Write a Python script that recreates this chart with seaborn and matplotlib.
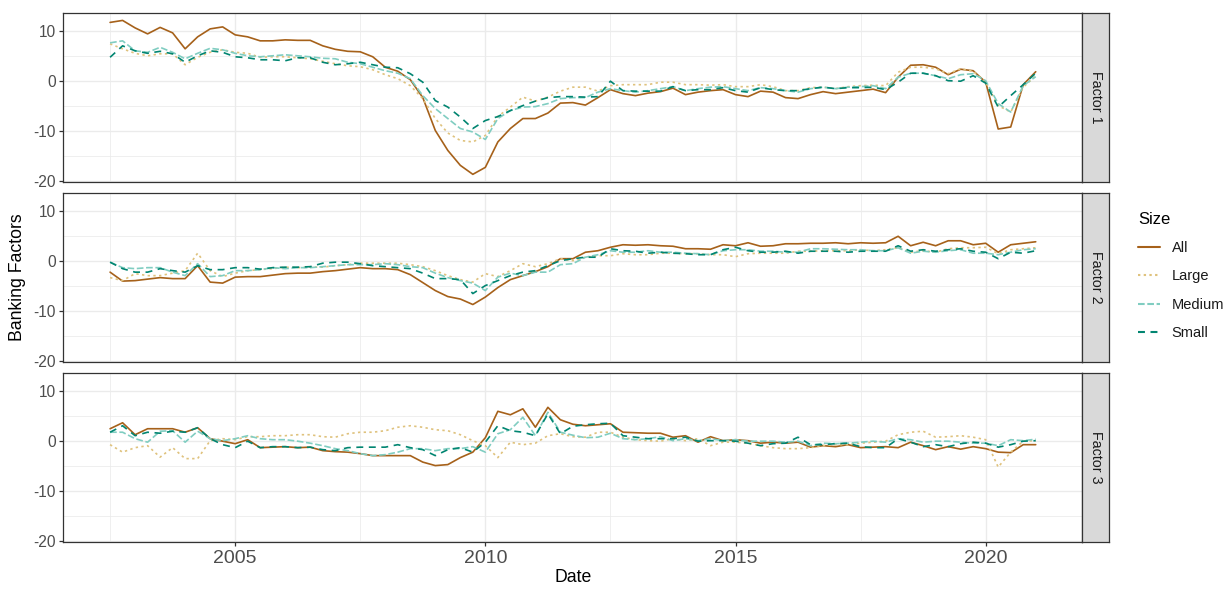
import numpy as np
import pandas as pd
import matplotlib
matplotlib.use("Agg")
import matplotlib.pyplot as plt
from matplotlib.lines import Line2D
import seaborn as sns

# ---------------- data ----------------
quarters = pd.date_range("2002-07-01", "2021-01-01", freq="QS")
sizes = ["All", "Large", "Medium", "Small"]
factors = ["Factor 1", "Factor 2", "Factor 3"]
x_ticks = [2005, 2010, 2015, 2020]
y_ticks = [-20, -10, 0, 10]

f1_all = [11.8, 12.2, 10.7, 9.5, 10.8, 9.7, 6.5, 8.9, 10.5, 10.9,
          9.3, 8.9, 8.1, 8.1, 8.3, 8.2, 8.2, 7.1, 6.4, 6.0,
          5.9, 4.9, 2.8, 2.0, 0.3, -3.3, -9.9, -13.9, -16.9, -18.7,
          -17.3, -12.2, -9.5, -7.5, -7.5, -6.4, -4.4, -4.3, -4.8, -3.3,
          -1.7, -2.5, -2.9, -2.4, -2.1, -1.4, -2.7, -2.2, -1.9, -1.7,
          -2.7, -3.1, -2.0, -2.2, -3.3, -3.5, -2.7, -2.1, -2.5, -2.2,
          -1.9, -1.6, -2.3, 0.8, 3.2, 3.3, 2.8, 1.3, 2.4, 2.1,
          -0.2, -9.6, -9.2, -0.7, 1.9]
f1_large = [7.5, 6.5, 5.6, 5.1, 5.5, 5.5, 3.3, 4.8, 5.8, 6.3,
            5.8, 5.6, 4.8, 4.9, 4.9, 4.7, 4.5, 4.0, 3.5, 3.1,
            2.9, 2.3, 1.3, 0.5, -0.9, -3.5, -7.5, -10.4, -11.9, -12.2,
            -10.9, -7.1, -5.2, -3.2, -4.0, -3.2, -2.0, -1.2, -1.2, -2.0,
            -0.9, -0.7, -0.7, -0.7, -0.2, -0.2, -0.7, -0.7, -0.8, -0.7,
            -1.1, -1.1, -0.7, -1.1, -1.9, -1.9, -1.3, -1.2, -1.5, -1.1,
            -0.9, -0.8, -0.9, 1.8, 2.8, 2.8, 2.5, 1.5, 2.5, 2.0,
            -0.2, -4.9, -6.2, -1.2, 1.1]
f1_medium = [7.7, 8.1, 6.1, 5.8, 6.8, 5.8, 4.5, 5.6, 6.6, 6.3,
             5.6, 5.1, 4.9, 5.1, 5.3, 5.1, 4.9, 4.6, 4.5, 3.8,
             3.5, 2.8, 2.1, 1.6, 0.5, -2.9, -5.5, -7.5, -9.5, -10.2,
             -11.7, -7.5, -5.9, -5.2, -5.1, -4.5, -3.5, -3.3, -3.3, -2.2,
             -1.5, -1.9, -2.2, -1.9, -1.5, -1.1, -1.9, -1.5, -1.2, -1.1,
             -1.5, -1.9, -1.3, -1.5, -1.9, -2.2, -1.5, -1.2, -1.5, -1.2,
             -1.1, -0.9, -1.5, 0.8, 1.6, 1.6, 1.1, 0.5, 1.3, 1.5,
             0.1, -4.5, -6.2, -0.9, 0.9]
f1_small = [4.8, 7.1, 6.1, 5.6, 6.0, 5.5, 3.8, 5.1, 6.1, 5.8,
            4.9, 4.7, 4.3, 4.3, 4.1, 4.7, 4.7, 3.8, 3.3, 3.5,
            3.8, 3.3, 2.8, 2.7, 1.5, -0.2, -3.9, -5.2, -7.2, -9.5,
            -7.9, -7.1, -5.9, -4.9, -4.0, -3.3, -3.1, -3.1, -3.2, -3.1,
            0.0, -1.9, -2.0, -2.0, -2.0, -1.1, -1.9, -1.7, -1.7, -1.3,
            -1.9, -2.2, -1.3, -1.7, -1.9, -1.9, -1.5, -1.2, -1.5, -1.3,
            -1.3, -1.2, -1.7, -0.2, 1.6, 1.6, 1.1, 0.1, 0.0, 1.1,
            -0.4, -5.2, -2.9, -0.7, 1.6]

f2_all = [-2.2, -4.0, -3.9, -3.6, -3.3, -3.5, -3.5, -0.9, -4.2, -4.4,
          -3.2, -3.1, -3.1, -2.8, -2.5, -2.4, -2.4, -2.1, -1.9, -1.6,
          -1.3, -1.5, -1.5, -1.7, -2.7, -4.3, -5.9, -7.1, -7.6, -8.7,
          -7.2, -5.3, -3.7, -2.9, -2.1, -1.1, 0.5, 0.5, 1.8, 2.1,
          2.8, 3.3, 3.2, 3.3, 3.1, 3.0, 2.5, 2.5, 2.4, 3.3,
          3.1, 3.7, 3.0, 3.1, 3.5, 3.5, 3.6, 3.6, 3.7, 3.5,
          3.7, 3.6, 3.7, 5.0, 3.1, 3.8, 3.1, 4.1, 4.1, 3.3,
          3.6, 1.8, 3.3, 3.6, 3.9]
f2_large = [-3.3, -3.9, -2.5, -2.9, -2.9, -2.4, -1.9, 1.6, -1.9, -3.1,
            -2.4, -1.9, -1.7, -1.5, -1.2, -1.3, -1.2, -1.2, -0.9, -0.7,
            -0.4, -0.4, -0.4, -0.4, -0.7, -1.1, -1.9, -2.9, -3.7, -4.2,
            -2.5, -3.1, -1.9, -0.5, -1.1, -0.5, 0.5, 0.1, 0.8, 1.1,
            1.1, 1.5, 1.3, 1.3, 1.6, 1.6, 1.5, 1.5, 1.3, 1.3,
            0.9, 1.5, 1.6, 1.6, 1.6, 2.0, 2.0, 2.1, 2.1, 2.1,
            2.3, 2.1, 2.3, 2.7, 1.8, 2.1, 1.8, 2.5, 2.7, 2.7,
            2.8, 1.5, 2.3, 2.5, 2.7]
f2_medium = [-0.2, -1.3, -1.5, -1.3, -1.3, -2.2, -2.9, -0.5, -3.1, -2.9,
             -1.9, -1.9, -1.7, -1.3, -1.5, -1.3, -1.3, -1.1, -0.9, -0.7,
             -0.7, -0.7, -0.5, -0.7, -1.1, -1.3, -2.4, -3.3, -3.9, -4.4,
             -5.9, -3.2, -2.4, -2.9, -2.2, -2.2, -0.7, -0.5, 0.8, 1.3,
             2.1, 1.8, 1.8, 2.1, 1.8, 1.8, 1.6, 1.5, 1.3, 2.1,
             2.3, 2.3, 2.0, 2.0, 1.8, 1.8, 2.5, 2.5, 2.4, 2.3,
             2.3, 2.1, 2.1, 2.7, 1.6, 2.0, 1.8, 2.1, 2.3, 1.6,
             1.6, 1.3, 1.8, 2.3, 2.5]
f2_small = [-0.2, -1.5, -2.2, -2.2, -1.5, -1.9, -2.2, -0.9, -1.7, -1.7,
            -1.3, -1.3, -1.6, -1.3, -1.2, -1.2, -1.1, -0.4, -0.2, -0.2,
            -0.5, -0.9, -1.1, -1.3, -1.5, -2.4, -3.5, -3.5, -3.7, -6.5,
            -4.9, -3.9, -2.9, -2.2, -1.9, -0.9, 0.1, 0.5, 0.8, 0.8,
            2.5, 2.1, 2.0, 1.6, 1.8, 1.6, 1.5, 1.3, 1.3, 2.3,
            2.8, 2.1, 1.8, 1.8, 2.0, 1.6, 2.0, 2.0, 2.0, 1.8,
            2.0, 2.0, 2.0, 3.1, 2.0, 2.3, 2.0, 2.3, 2.5, 2.0,
            1.8, 0.5, 1.8, 1.6, 2.1]

f3_all = [2.5, 3.7, 1.3, 2.5, 2.5, 2.5, 1.8, 2.7, 0.5, 0.0,
          -0.5, 0.3, -1.3, -1.2, -1.1, -1.3, -1.2, -1.9, -2.1, -2.2,
          -2.5, -2.9, -2.9, -2.9, -2.9, -4.2, -4.9, -4.7, -3.3, -2.2,
          0.7, 6.0, 5.3, 6.5, 2.8, 6.8, 4.3, 3.4, 3.1, 3.3,
          3.5, 1.8, 1.7, 1.6, 1.6, 0.8, 1.1, -0.2, 0.9, 0.1,
          0.3, 0.1, -0.4, -0.2, -0.4, -0.2, -1.2, -0.9, -1.1, -0.7,
          -1.3, -1.2, -1.1, -1.3, -0.2, -0.9, -1.7, -1.1, -1.6, -1.1,
          -1.5, -2.2, -2.3, -0.7, -0.7]
f3_large = [-0.7, -2.2, -1.3, -0.9, -3.2, -1.3, -3.5, -3.5, 0.1, 0.5,
            0.3, 0.9, 0.9, 1.1, 1.1, 1.3, 1.3, 0.9, 0.8, 1.5,
            1.8, 1.8, 2.1, 2.8, 3.1, 2.8, 2.3, 2.1, 1.3, 0.1,
            -0.9, -3.3, -0.2, -0.7, -0.4, 1.1, 1.5, 0.9, 0.8, 1.8,
            1.8, 0.8, 0.3, 0.1, 0.0, 0.5, 0.1, 0.5, -0.9, -0.2,
            -0.2, -0.4, -0.9, -1.3, -1.5, -1.5, -1.3, -0.9, -0.7, -0.7,
            -0.4, -0.2, 0.0, 1.3, 1.8, 2.0, 0.8, 0.9, 1.1, 0.8,
            0.3, -5.2, -2.2, 0.0, 0.1]
f3_medium = [1.8, 1.8, 0.5, -0.2, 2.0, 2.1, -0.2, 2.0, 0.5, 0.1,
             0.5, 1.1, 0.5, 0.3, 0.3, 0.0, -0.4, -0.9, -1.5, -1.9,
             -2.5, -2.9, -2.7, -2.2, -1.5, -1.5, -1.9, -1.5, -1.5, -1.1,
             -2.2, 1.5, 2.3, 4.8, 1.1, 5.8, 1.8, 1.2, 0.7, 0.8,
             1.6, 0.5, 0.3, 0.5, 0.9, 0.1, 0.5, 0.1, 0.5, 0.1,
             0.3, 0.0, 0.0, 0.0, -0.2, 0.0, -0.9, -0.4, -0.5, -0.4,
             -0.2, 0.0, -0.2, 0.5, 0.3, -0.2, 0.0, 0.0, -0.2, -0.4,
             -0.4, -0.9, 0.3, 0.1, 0.4]
f3_small = [1.8, 3.1, 1.1, 1.8, 1.6, 2.0, 1.8, 2.7, 0.5, -0.7,
            -1.3, 0.0, -1.3, -1.1, -1.1, -1.3, -1.2, -1.7, -1.9, -1.3,
            -1.2, -1.2, -1.2, -0.7, -1.3, -1.7, -2.9, -1.7, -1.3, -2.2,
            -0.2, 3.1, 2.1, 1.8, 1.1, 5.5, 1.5, 3.0, 3.3, 3.5,
            3.6, 1.1, 0.8, 0.5, 0.5, 0.5, 0.8, 0.0, 0.1, 0.1,
            0.0, -0.4, -0.9, -0.5, -0.4, 0.8, -0.7, -0.7, -0.5, -0.4,
            -1.1, -1.3, -1.3, 0.5, -0.2, -1.1, -0.7, -1.1, -0.5, -0.2,
            -0.4, -1.2, -0.7, 0.0, 0.1]

series = {
    "Factor 1": {"All": f1_all, "Large": f1_large, "Medium": f1_medium, "Small": f1_small},
    "Factor 2": {"All": f2_all, "Large": f2_large, "Medium": f2_medium, "Small": f2_small},
    "Factor 3": {"All": f3_all, "Large": f3_large, "Medium": f3_medium, "Small": f3_small},
}

t = quarters.year + (quarters.month - 1) / 12.0
rows = []
for f in factors:
    for s in sizes:
        for ti, v in zip(t, series[f][s]):
            rows.append((f, s, ti, v))
df = pd.DataFrame(rows, columns=["Factor", "Size", "t", "value"])

# ---------------- style ----------------
sns.set_theme(style="white")
plt.rcParams["font.family"] = ["Liberation Sans", "DejaVu Sans"]
plt.rcParams["lines.scale_dashes"] = False

palette = {"All": "#A6611A", "Large": "#DFC27D", "Medium": "#80CDC1", "Small": "#018571"}
dashes = {"All": "", "Large": (1.7, 2.4), "Medium": (4.8, 1.9), "Small": (5.0, 4.0)}

W_PX, H_PX = 1226, 589
fig = plt.figure(figsize=(W_PX / 100, H_PX / 100), dpi=100)
fig.patch.set_facecolor("white")

left_px, right_px = 63.3, 1082.0
panel_tops = [12.7, 192.7, 372.7]
panel_h = 169.6
strip_w = 27.3

for k, f in enumerate(factors):
    top = panel_tops[k]
    rect = [left_px / W_PX, 1 - (top + panel_h) / H_PX,
            (right_px - left_px) / W_PX, panel_h / H_PX]
    ax = fig.add_axes(rect)
    ax.set_facecolor("white")
    ax.set_xticks([2002.5, 2007.5, 2012.5, 2017.5], minor=True)
    ax.set_yticks([-15, -5, 5], minor=True)
    ax.grid(which="major", color="#EBEBEB", linewidth=1.0)
    ax.grid(which="minor", color="#EBEBEB", linewidth=0.55)
    ax.set_axisbelow(True)
    sns.lineplot(data=df[df["Factor"] == f], x="t", y="value",
                 hue="Size", style="Size", hue_order=sizes, style_order=sizes,
                 palette=palette, dashes=dashes, linewidth=1.2,
                 errorbar=None, legend=False, ax=ax)
    ax.set_xlim(2001.565, 2021.925)
    ax.set_ylim(-20.3, 13.75)
    ax.set_xticks(x_ticks)
    ax.set_xticklabels([str(v) for v in x_ticks])
    ax.set_yticks(y_ticks)
    ax.set_yticklabels([str(v) for v in y_ticks])
    ax.set_xlabel("")
    ax.set_ylabel("")
    for sp in ax.spines.values():
        sp.set_color("#333333")
        sp.set_linewidth(0.9)
    ax.tick_params(which="major", length=2.9, width=0.9, color="#333333",
                   labelcolor="#4D4D4D", pad=2.6)
    ax.tick_params(which="minor", length=0)
    ax.tick_params(axis="y", labelsize=11.2, left=True)
    ax.tick_params(axis="x", labelsize=14, bottom=True)
    if k < 2:
        ax.tick_params(axis="x", which="both", bottom=False, labelbottom=False)

    sax = fig.add_axes([right_px / W_PX, rect[1], strip_w / W_PX, rect[3]])
    sax.set_facecolor("#D9D9D9")
    sax.set_xticks([])
    sax.set_yticks([])
    for sp in sax.spines.values():
        sp.set_color("#333333")
        sp.set_linewidth(0.9)
    sax.text(0.5, 0.5, f, rotation=-90, ha="center", va="center",
             fontsize=10.3, color="#1A1A1A", transform=sax.transAxes)

# axis titles
fig.text((left_px + right_px) / 2 / W_PX, 1 - 578 / H_PX, "Date",
         ha="center", va="center", fontsize=12.7, color="black")
fig.text(18 / W_PX, 1 - 277.5 / H_PX, "Banking Factors", rotation=90,
         ha="center", va="center", fontsize=12.7, color="black")

# legend
handles = []
for s in sizes:
    ls = "-" if dashes[s] == "" else (0, dashes[s])
    handles.append(Line2D([], [], color=palette[s], linewidth=1.5, linestyle=ls))
leg = fig.legend(handles, sizes, title="Size", loc="upper left",
                 bbox_to_anchor=(1138 / W_PX, 1 - 211.5 / H_PX),
                 frameon=False, fontsize=10.5, title_fontsize=12,
                 handlelength=1.5, handletextpad=0.82, labelspacing=0.99,
                 borderpad=0, borderaxespad=0, alignment="left")
for txt in leg.get_texts():
    txt.set_color("#1A1A1A")
leg.get_title().set_color("black")

fig.savefig("out.png", dpi=100, facecolor="white")
